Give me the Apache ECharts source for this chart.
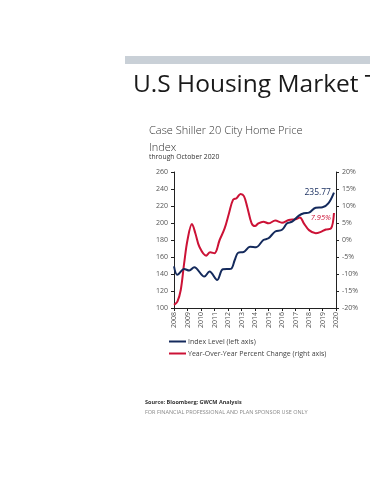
<!DOCTYPE html>
<html>
<head>
<meta charset="utf-8">
<script src="https://cdn.jsdelivr.net/npm/echarts@6/dist/echarts.min.js"></script>
<style>
html,body{margin:0;padding:0;background:#fff;}
#chart{width:370px;height:480px;}
</style>
</head>
<body>
<div id="chart"></div>
<script>
// X-axis ticks (years)
var yearTicks = [2008, 2009, 2010, 2011, 2012, 2013, 2014, 2015, 2016, 2017, 2018, 2019, 2020];

// Index level (left axis): time positions (decimal year on the drawn axis) and values
var indexTimes = [2008.0, 2008.25, 2008.75, 2009.13, 2009.5, 2010.25, 2010.63, 2011.2, 2011.62, 2012.2, 2012.5, 2012.75, 2013.18, 2013.63, 2014.08, 2014.62, 2015.0, 2015.5, 2016.0, 2016.38, 2016.75, 2017.25, 2017.62, 2018.0, 2018.5, 2019.0, 2019.43, 2019.85];
var indexValues = [149, 139, 146, 144, 148, 137, 143, 133, 145.5, 146, 156.5, 165, 166, 172, 171.5, 180, 182, 190, 192, 199.6, 201.6, 208.6, 211.4, 212.2, 218, 218.5, 223, 235.77];

// Year-over-year percent change (right axis)
var yoyTimes = [2008.0, 2008.25, 2008.5, 2008.75, 2009.0, 2009.33, 2009.58, 2009.88, 2010.38, 2010.68, 2011.0, 2011.38, 2011.75, 2012.07, 2012.37, 2012.63, 2012.93, 2013.18, 2013.42, 2013.75, 2014.0, 2014.25, 2014.62, 2015.0, 2015.5, 2016.0, 2016.5, 2017.0, 2017.33, 2017.62, 2018.0, 2018.5, 2018.88, 2019.25, 2019.63, 2019.85];
var yoyValues = [-19.1, -18.1, -14.7, -6.9, 0, 4.7, 2.0, -2.0, -4.6, -3.6, -3.9, 0, 3.4, 7.8, 11.8, 12.3, 13.5, 12.9, 9.8, 4.9, 4.1, 4.9, 5.4, 4.9, 5.7, 5.1, 5.9, 6.1, 6.6, 4.9, 2.9, 2.0, 2.4, 3.1, 3.4, 7.95];

var leftTicks = [100, 120, 140, 160, 180, 200, 220, 240, 260];
var rightTicks = [-20, -15, -10, -5, 0, 5, 10, 15, 20];

var seriesNames = ['Index Level (left axis)', 'Year-Over-Year Percent Change (right axis)'];

var FONT = '"Open Sans", "Noto Sans", sans-serif';
var NAVY = '#142a5c';
var RED = '#cc1236';

function pairs(xs, ys) {
  return xs.map(function (x, i) { return [x, ys[i]]; });
}

var chart = echarts.init(document.getElementById('chart'), null, { renderer: 'canvas' });
chart.setOption({
  backgroundColor: '#ffffff',
  animation: false,
  textStyle: { fontFamily: FONT },
  graphic: [
    { type: 'rect', left: 125, top: 56, shape: { width: 245, height: 8 }, style: { fill: '#c9d0d7' } },
    { type: 'text', left: 133, top: 73, style: { text: 'U.S Housing Market Trends', font: '24.5px ' + FONT, fill: '#1a1a1a' } },
    { type: 'text', left: 149, top: 123, style: { text: 'Case Shiller 20 City Home Price\nIndex', font: '300 11px ' + FONT, lineHeight: 16.5, fill: '#333' } },
    { type: 'text', left: 149, top: 154, style: { text: 'through October 2020', font: '6.8px ' + FONT, fill: '#333' } },
    { type: 'text', left: 145, top: 399, style: { text: 'Source: Bloomberg; GWCM Analysis', font: 'bold 5.5px ' + FONT, fill: '#333' } },
    { type: 'text', left: 145, top: 409, style: { text: 'FOR FINANCIAL PROFESSIONAL AND PLAN SPONSOR USE ONLY', font: '5.5px ' + FONT, fill: '#8a8a8a' } }
  ],
  grid: { left: 174, right: 34, top: 172, bottom: 172, containLabel: false },
  legend: {
    orient: 'vertical', left: 164, top: 333, itemGap: 5,
    itemWidth: 17, itemHeight: 2, icon: 'rect',
    textStyle: { fontSize: 7, color: '#444', fontFamily: FONT, padding: [0, 0, 0, -3] },
    data: seriesNames
  },
  xAxis: {
    type: 'value', min: yearTicks[0], max: yearTicks[yearTicks.length - 1], interval: 1,
    splitLine: { show: false },
    axisLine: { onZero: false, lineStyle: { color: '#222', width: 1 } },
    axisTick: { show: true, length: 3, lineStyle: { color: '#222' } },
    axisLabel: { rotate: 90, fontSize: 7, color: '#555', margin: 4, formatter: function (v) { return String(v); } }
  },
  yAxis: [
    {
      type: 'value', min: leftTicks[0], max: leftTicks[leftTicks.length - 1], interval: 20,
      position: 'left', splitLine: { show: false },
      axisLine: { show: true, lineStyle: { color: '#222', width: 1 } },
      axisTick: { show: true, length: 3, lineStyle: { color: '#222' } },
      axisLabel: { fontSize: 7, color: '#555', margin: 6 }
    },
    {
      type: 'value', min: rightTicks[0], max: rightTicks[rightTicks.length - 1], interval: 5,
      position: 'right', splitLine: { show: false },
      axisLine: { show: true, lineStyle: { color: '#222', width: 1 } },
      axisTick: { show: true, length: 3, lineStyle: { color: '#222' } },
      axisLabel: { fontSize: 7, color: '#555', margin: 6, formatter: '{value}%' }
    }
  ],
  series: [
    {
      name: seriesNames[0], type: 'line', yAxisIndex: 0, smooth: 0.35, showSymbol: false, symbol: 'none',
      lineStyle: { color: NAVY, width: 2 }, itemStyle: { color: NAVY },
      data: pairs(indexTimes, indexValues),
      endLabel: {
        show: true, align: 'right', offset: [-11, 0],
        formatter: function (p) { return p.value[1].toFixed(2); },
        fontSize: 8.5, color: NAVY
      },
      z: 3
    },
    {
      name: seriesNames[1], type: 'line', yAxisIndex: 1, smooth: 0.35, showSymbol: false, symbol: 'none',
      lineStyle: { color: RED, width: 2 }, itemStyle: { color: RED },
      data: pairs(yoyTimes, yoyValues),
      endLabel: {
        show: true, align: 'right', offset: [-11, 5],
        formatter: function (p) { return p.value[1].toFixed(2) + '%'; },
        fontSize: 7.5, color: RED, fontStyle: 'italic'
      },
      z: 2
    }
  ]
});
</script>
</body>
</html>
